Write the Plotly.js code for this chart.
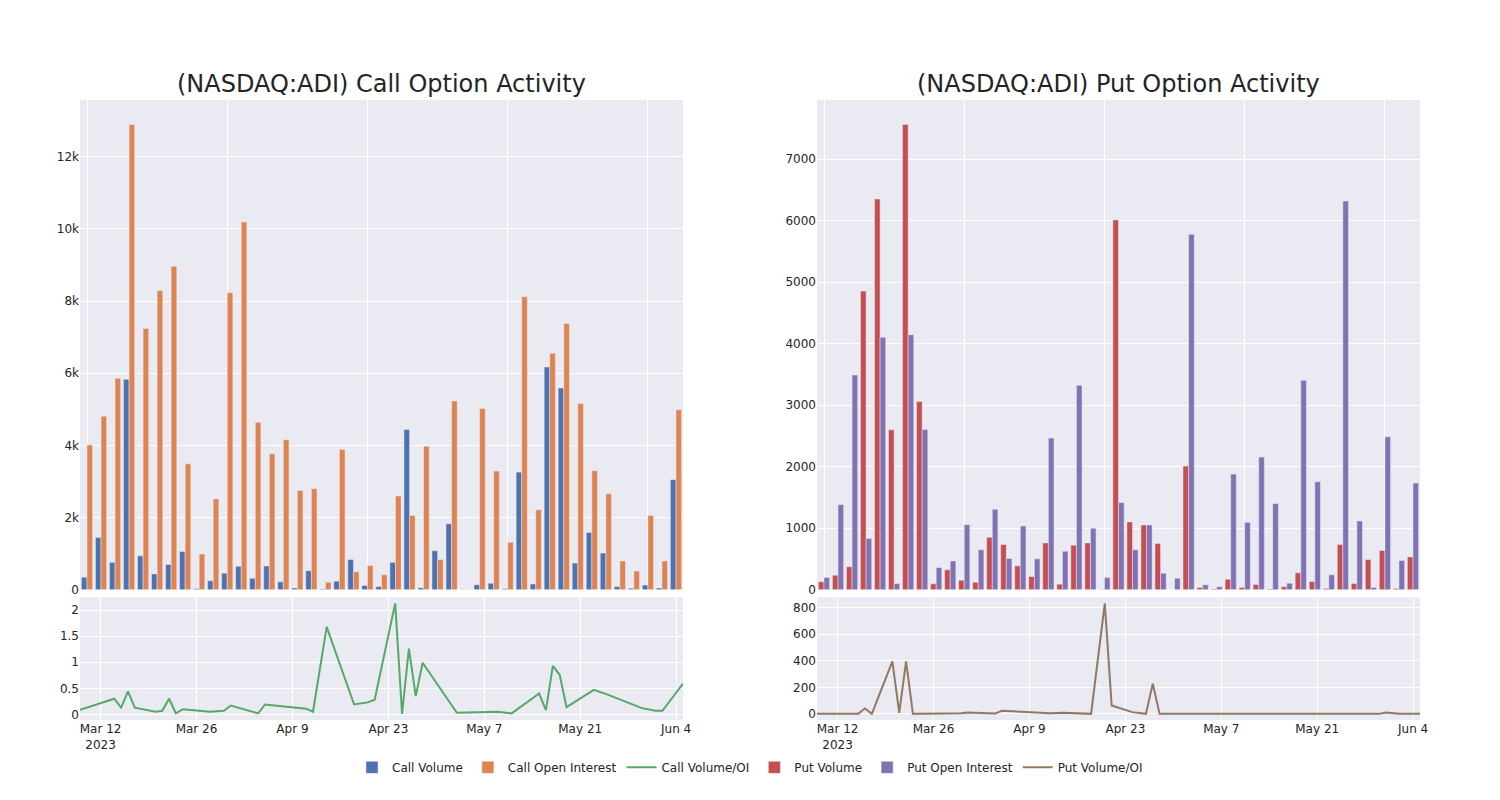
<!DOCTYPE html>
<html>
<head>
<meta charset="utf-8">
<script src="https://cdn.plot.ly/plotly-3.0.1.min.js"></script>
<style>html,body{margin:0;padding:0;background:#fff;}#chart{width:1500px;height:800px;}</style>
</head>
<body>
<div id="chart"></div>
<script>
const dates = ['2023-03-09','2023-03-14','2023-03-15','2023-03-16','2023-03-17','2023-03-20','2023-03-21','2023-03-22','2023-03-23','2023-03-24',
  '2023-03-28','2023-03-29','2023-03-30','2023-03-31','2023-04-03','2023-04-04','2023-04-05','2023-04-11','2023-04-12','2023-04-14',
  '2023-04-18','2023-04-20','2023-04-21','2023-04-24','2023-04-25','2023-04-26','2023-04-27','2023-04-28','2023-05-03','2023-05-09',
  '2023-05-11','2023-05-15','2023-05-16','2023-05-17','2023-05-18','2023-05-19','2023-05-23','2023-05-25','2023-05-30','2023-05-31',
  '2023-06-01','2023-06-02','2023-06-05'];

const callVolume = [350,1450,760,5830,940,440,700,1060,30,250,
  460,650,320,660,220,50,530,25,240,840,
  120,90,760,4440,55,1080,1830,5,140,180,
  30,3260,160,6170,5590,740,1590,1020,90,40,
  130,50,3050];
const callOpenInterest = [4010,4810,5860,12890,7240,8290,8960,3490,990,2520,
  8230,10190,4640,3770,4160,2750,2800,210,3890,500,
  670,420,2600,2060,3980,840,5230,5,5020,3290,
  1320,8120,2220,6550,7380,5160,3300,2660,800,520,
  2060,800,4990];
const callVolumeOI = [0.09,0.30,0.13,0.44,0.13,0.05,0.07,0.30,0.02,0.10,
  0.05,0.06,0.07,0.17,0.06,0.02,0.19,0.11,0.05,1.68,
  0.19,0.23,0.28,2.13,0.01,1.26,0.35,0.99,0.03,0.05,
  0.02,0.40,0.08,0.93,0.76,0.14,0.47,0.38,0.12,0.09,
  0.07,0.07,0.59];

const putVolume = [130,238,373,4854,6351,2600,7562,3059,97,324,
  157,124,854,735,389,216,762,92,724,762,
  5,6011,1103,1054,751,0,2011,38,11,173,
  38,86,11,49,276,135,22,735,103,492,
  638,22,535];
const putOpenInterest = [200,1384,3492,832,4103,103,4146,2605,362,470,
  1059,649,1308,508,1038,503,2465,627,3324,1000,
  200,1416,649,1054,270,189,5778,81,49,1881,
  1097,2157,1400,108,3405,1757,243,6319,1119,38,
  2486,476,1735];
const putVolumeOI = [0,0,0,40,0,395,8,395,0,0,
  0,2,5,10,3,2,23,3,5,8,
  0,833,63,13,6,0,227,0,0,0,
  0,0,0,0,0,0,0,0,0,10,
  4,0,0];

const titles = ['(NASDAQ:ADI) Call Option Activity', '(NASDAQ:ADI) Put Option Activity'];

const barLine = {color: '#EAEAF2', width: 0.5};
const data = [
  {type:'bar', x: dates, y: callVolume, name:'Call Volume', xaxis:'x', yaxis:'y', marker:{color:'#4C72B0', line: barLine}},
  {type:'bar', x: dates, y: callOpenInterest, name:'Call Open Interest', xaxis:'x', yaxis:'y', marker:{color:'#DD8452', line: barLine}},
  {type:'scatter', mode:'lines', x: dates, y: callVolumeOI, name:'Call Volume/OI', xaxis:'x2', yaxis:'y2', line:{color:'#55A868', width:2}},
  {type:'bar', x: dates, y: putVolume, name:'Put Volume', xaxis:'x3', yaxis:'y3', marker:{color:'#C44E52', line: barLine}},
  {type:'bar', x: dates, y: putOpenInterest, name:'Put Open Interest', xaxis:'x3', yaxis:'y3', marker:{color:'#8172B3', line: barLine}},
  {type:'scatter', mode:'lines', x: dates, y: putVolumeOI, name:'Put Volume/OI', xaxis:'x4', yaxis:'y4', line:{color:'#937860', width:2}}
];

const gridAxis = {gridcolor:'white', zerolinecolor:'white', showline:false, ticks:'', linecolor:'white'};
const catAxis = Object.assign({}, gridAxis, {type:'category', showticklabels:false, tickmode:'linear', tick0:0, dtick:10});
const dateAxis = Object.assign({}, gridAxis, {type:'date'});

const layout = {
  width:1500, height:800,
  margin:{l:80, r:80, t:100, b:80},
  paper_bgcolor:'white', plot_bgcolor:'#EAEAF2',
  font:{family:'"DejaVu Sans", sans-serif', size:12, color:'rgb(36,36,36)'},
  barmode:'group',
  showlegend:true,
  legend:{orientation:'h', x:0.5, xanchor:'center', y:-0.053, yanchor:'top', font:{size:12}},
  xaxis: Object.assign({}, catAxis, {domain:[0,0.45], anchor:'y'}),
  yaxis: Object.assign({}, gridAxis, {domain:[0.21,1], anchor:'x'}),
  xaxis2: Object.assign({}, dateAxis, {domain:[0,0.45], anchor:'y2'}),
  yaxis2: Object.assign({}, gridAxis, {domain:[0,0.198], anchor:'x2'}),
  xaxis3: Object.assign({}, catAxis, {domain:[0.55,1], anchor:'y3'}),
  yaxis3: Object.assign({}, gridAxis, {domain:[0.21,1], anchor:'x3'}),
  xaxis4: Object.assign({}, dateAxis, {domain:[0.55,1], anchor:'y4'}),
  yaxis4: Object.assign({}, gridAxis, {domain:[0,0.198], anchor:'x4'}),
  annotations:[
    {text: titles[0], xref:'paper', yref:'paper', x:0.225, y:1, xanchor:'center', yanchor:'bottom', showarrow:false, font:{size:24}},
    {text: titles[1], xref:'paper', yref:'paper', x:0.775, y:1, xanchor:'center', yanchor:'bottom', showarrow:false, font:{size:24}}
  ]
};

Plotly.newPlot('chart', data, layout, {displayModeBar:false});
</script>
</body>
</html>
